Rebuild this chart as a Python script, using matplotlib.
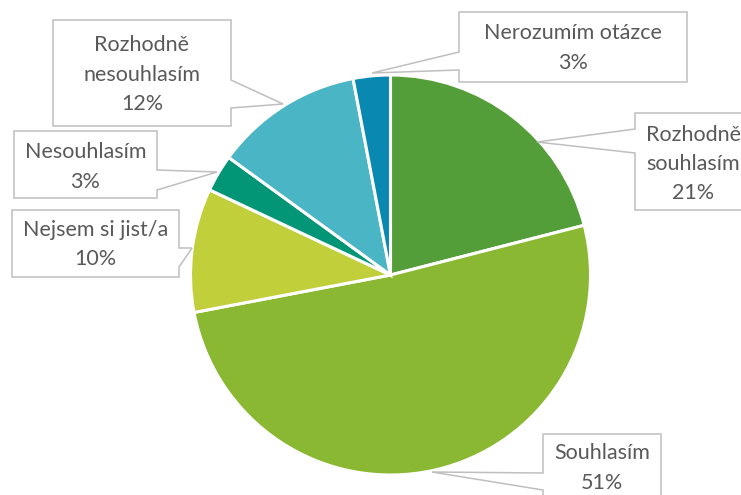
import matplotlib
matplotlib.use("Agg")
import matplotlib.pyplot as plt
from matplotlib.patches import Polygon

labels = ["Rozhodně souhlasím", "Souhlasím", "Nejsem si jist/a", "Nesouhlasím",
          "Rozhodně nesouhlasím", "Nerozumím otázce"]
values = [21, 51, 10, 3, 12, 3]
colors = ["#549E39", "#8AB833", "#C0CF3A", "#029676", "#4AB5C4", "#0989B1"]
label_lines = [["Rozhodně", "souhlasím"], ["Souhlasím"], ["Nejsem si jist/a"],
               ["Nesouhlasím"], ["Rozhodně", "nesouhlasím"], ["Nerozumím otázce"]]

W, H = 741, 495
fig = plt.figure(figsize=(W / 100, H / 100), dpi=100)
ax = fig.add_axes([0, 0, 1, 1])

def Y(y):
    return H - y

cx, cy, R = 390.5, 275, 200
ax.pie(values, colors=colors, startangle=90, counterclock=False,
       center=(cx, Y(cy)), radius=R, frame=True,
       wedgeprops=dict(edgecolor="white", linewidth=2.2))
ax.set_xlim(0, W)
ax.set_ylim(0, H)
ax.set_aspect("equal")
ax.axis("off")

# callout geometry in pixel coords: box (x0,x1,y0,y1), side, base (b0,b1), tip
callouts = [
    dict(box=(635, 751, 113, 210), side="left", base=(129, 153), tip=(537, 142), ty=[135, 164, 193], tx=693),
    dict(box=(543, 661, 434, 520), side="left", base=(473, 490), tip=(432, 472), ty=[453, 483], tx=602),
    dict(box=(12, 179, 210, 277), side="right", base=(248, 267), tip=(192, 248), ty=[230, 259], tx=95.5),
    dict(box=(14, 157, 131, 198), side="right", base=(170, 190), tip=(217, 172), ty=[152, 182], tx=85.5),
    dict(box=(53, 231, 20, 126), side="right", base=(80, 108), tip=(283, 104), ty=[45, 75, 104], tx=142),
    dict(box=(459, 687, 12, 82), side="left", base=(52, 70), tip=(372, 73), ty=[33, 63], tx=573),
]
pcts = [f"{v}%" for v in values]

for i, c in enumerate(callouts):
    x0, x1, y0, y1 = c["box"]
    b0, b1 = c["base"]
    tx_, ty_ = c["tip"]
    if c["side"] == "right":
        pts = [(x0, y0), (x1, y0), (x1, b0), (tx_, ty_), (x1, b1), (x1, y1), (x0, y1)]
    else:
        pts = [(x0, y0), (x1, y0), (x1, y1), (x0, y1), (x0, b1), (tx_, ty_), (x0, b0)]
    pts = [(px, Y(py)) for px, py in pts]
    ax.add_patch(Polygon(pts, closed=True, facecolor="white", edgecolor="#BFBFBF",
                         linewidth=1.1, zorder=5))
    lines = label_lines[i] + [pcts[i]]
    for line, yy in zip(lines, c["ty"]):
        ax.text(c["tx"], Y(yy), line, ha="center", va="center", fontsize=15.5,
                family="Lato", color="#595959", zorder=6)

fig.savefig("out.png", dpi=100)
